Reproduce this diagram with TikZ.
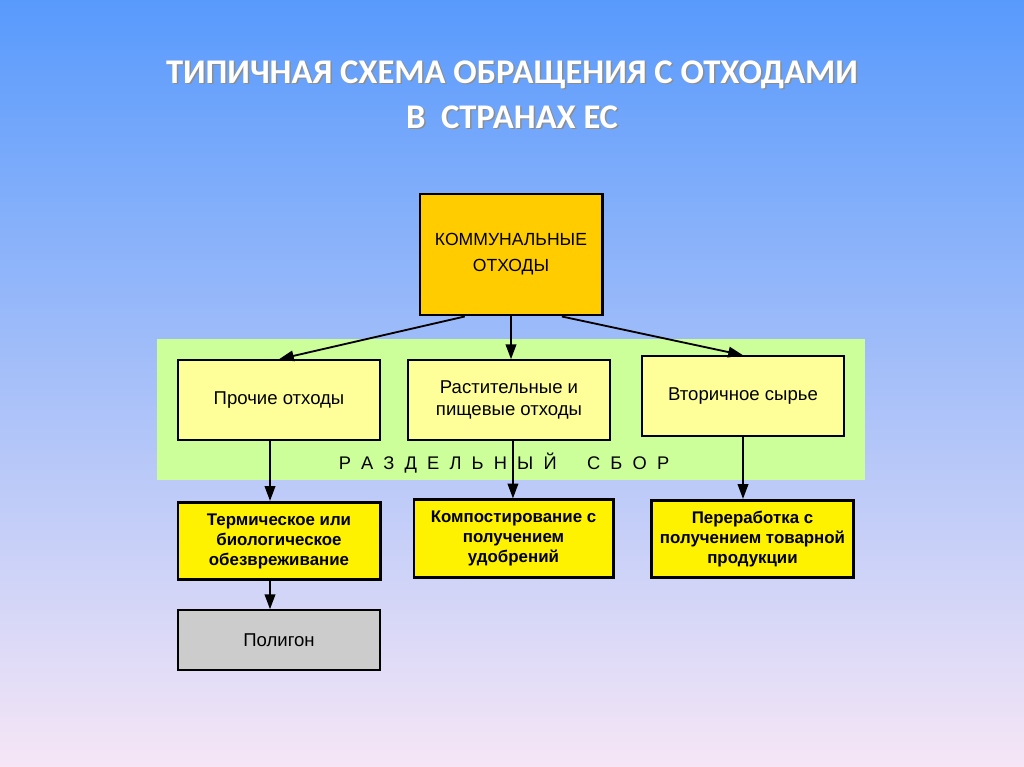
\documentclass[tikz,border=0pt]{standalone}
\usepackage{fontspec}
\setmainfont{Liberation Sans}
\newfontfamily\titlefont{Carlito}
\usetikzlibrary{calc,arrows.meta}

\definecolor{bgtop}{RGB}{88,154,252}
\definecolor{bgmid}{RGB}{160,205,248}
\definecolor{bgbot}{RGB}{246,230,246}
\definecolor{komfill}{RGB}{255,204,0}
\definecolor{paleyellow}{RGB}{255,255,153}
\definecolor{bandgreen}{RGB}{204,255,153}
\definecolor{greybox}{RGB}{204,204,204}

\begin{document}
\begin{tikzpicture}[x=0.025cm,y=-0.025cm,
    box/.style={draw=black,line width=1.1pt,fill=paleyellow,minimum width=5.05cm,
      minimum height=2cm,align=center,font=\fontsize{13.2}{15.5}\selectfont},
    thickbox/.style={box,line width=2.1pt,fill=yellow,minimum height=1.93cm,
      font=\fontsize{12}{14.2}\selectfont\bfseries},
    arr/.style={-{Triangle[length=10.5pt,width=7.5pt]},line width=1.3pt}
  ]
  \shade[top color=bgtop,middle color=bgmid,bottom color=bgbot] (0,0) rectangle (1024,767);
  \useasboundingbox (0,0) rectangle (1024,767);

  % title
  \node[text=black!45,align=center,font=\titlefont\fontsize{24.6}{32}\selectfont\bfseries]
    (titleshadow) at (513.5,96) {ТИПИЧНАЯ СХЕМА ОБРАЩЕНИЯ С ОТХОДАМИ\\В~~СТРАНАХ ЕС};
  \node[text=white,align=center,font=\titlefont\fontsize{24.6}{32}\selectfont\bfseries]
    (title) at (512,94.5) {ТИПИЧНАЯ СХЕМА ОБРАЩЕНИЯ С ОТХОДАМИ\\В~~СТРАНАХ ЕС};

  % separate collection band
  \fill[bandgreen] (157,339) rectangle (865,480);
  \node[font=\fontsize{13}{15}\selectfont] (sbor) at (504,463)
    {Р\ \ А\ \ З\ \ Д\ \ Е\ \ Л\ \ Ь\ \ Н\ \ Ы\ \ Й\ \ \ \ \ \ С\ \ Б\ \ О\ \ Р};

  \node[box,line width=2.1pt,fill=komfill,minimum width=4.55cm,minimum height=3.025cm,
    font=\fontsize{12.5}{18.5}\selectfont] (kom) at (511,254.5) {КОММУНАЛЬНЫЕ\\ОТХОДЫ};

  \node[box] (prochie) at (279,400) {Прочие отходы};
  \node[box] (rast) at (509,400) {Растительные и\\пищевые отходы};
  \node[box] (vtor) at (743,396) {Вторичное сырье};

  \node[thickbox] (term) at (279,541) {Термическое или\\биологическое\\обезвреживание};
  \node[thickbox,minimum width=4.975cm] (komp) at (513.5,538.5) {Компостирование с\\получением\\удобрений};
  \node[thickbox] (perer) at (752.5,539) {Переработка с\\получением товарной\\продукции};

  \node[box,fill=greybox,minimum height=1.5cm] (poligon) at (279,640) {Полигон};

  \draw[arr] ($(kom.south)!0.5!(kom.south west)$) -- (prochie.north);
  \draw[arr] (kom.south) -- (kom.south |- rast.north);
  \draw[arr] ($(kom.south)!0.55!(kom.south east)$) -- (vtor.north);
  \draw[arr] ([xshift=-6.4pt]prochie.south) -- ([xshift=-6.4pt]prochie.south |- term.north);
  \draw[arr] ([xshift=2.8pt]rast.south) -- ([xshift=2.8pt]rast.south |- komp.north);
  \draw[arr] (vtor.south) -- (vtor.south |- perer.north);
  \draw[arr] ([xshift=-6.4pt]term.south) -- ([xshift=-6.4pt]term.south |- poligon.north);
\end{tikzpicture}
\end{document}
